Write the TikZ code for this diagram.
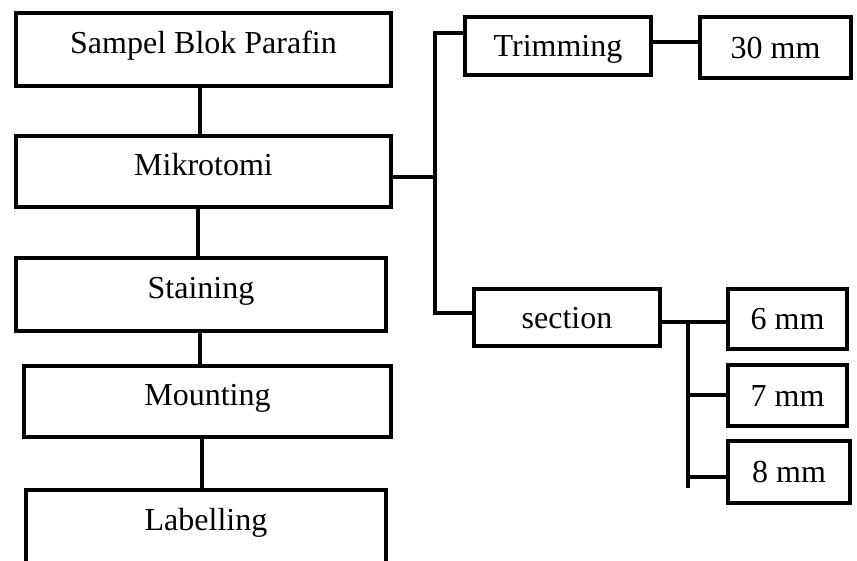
\documentclass[tikz,border=0pt]{standalone}
\usepackage{fontspec}
\setmainfont{Liberation Serif}
\begin{document}
\begin{tikzpicture}[x=1pt,y=-1pt,
  line width=3.6pt, line join=miter,
  box/.style={draw, line width=3.6pt, inner sep=0pt, font=\fontsize{32}{38}\selectfont},
  lifted/.style={text height=22pt, text depth=13.8pt},
  level/.style={text height=21.2pt, text depth=0pt}]
\clip (0,0) rectangle (857,560);
\fill[white] (0,0) rectangle (857,560);

% main sequence on the left
\node[box, lifted, minimum width=375.4pt, minimum height=73.4pt] (sampel) at (203.5,49.5) {Sampel Blok Parafin};
\node[box, lifted, minimum width=375.4pt, minimum height=71.4pt] (mikro) at (203.5,171.5) {Mikrotomi};
\node[box, lifted, minimum width=370.4pt, minimum height=73.4pt] (staining) at (201,294.5) {Staining};
\node[box, lifted, minimum width=367.4pt, minimum height=71.4pt] (mounting) at (207.5,401.5) {Mounting};
\node[box, lifted, minimum width=360.4pt, minimum height=73.4pt] (labelling) at (206,526.5) {Labelling};

% microtome branches
\node[box, level, minimum width=186.4pt, minimum height=58.4pt] (trimming) at (558,46) {Trimming};
\node[box, level, minimum width=151.4pt, minimum height=61.4pt] (thirty) at (775.5,47.5) {30 mm};
\node[box, level, minimum width=186.4pt, minimum height=57.4pt] (section) at (567,317.5) {section};
\node[box, level, minimum width=119.4pt, minimum height=60.4pt] (six) at (787.5,319) {6 mm};
\node[box, level, minimum width=119.4pt, minimum height=61.4pt] (seven) at (787.5,395.5) {7 mm};
\node[box, level, minimum width=122.4pt, minimum height=62.4pt] (eight) at (789,472) {8 mm};

% vertical links of the main sequence
\draw (sampel.south -| 200,0) -- (mikro.north -| 200,0);
\draw (mikro.south -| 198,0) -- (staining.north -| 198,0);
\draw (staining.south -| 200,0) -- (mounting.north -| 200,0);
\draw (mounting.south -| 202,0) -- (labelling.north -| 202,0);

% bracket from Mikrotomi to Trimming and section
\coordinate (btop) at (435,33);
\coordinate (bbot) at (435,313);
\coordinate (bmid) at (435,177);
\draw (trimming.west |- btop) -- (btop) -- (bbot) -- (section.west |- bbot);
\draw (mikro.east |- bmid) -- (bmid);

% Trimming to 30 mm
\draw (trimming.east |- 0,42) -- (thirty.west |- 0,42);

% section to its thicknesses
\coordinate (stop) at (688,322);
\coordinate (sbot) at (688,488);
\draw (section.east |- stop) -- (six.west |- stop);
\draw (stop) -- (sbot);
\draw (686,395) -- (seven.west |- 0,395);
\draw (688,477) -- (eight.west |- 0,477);
\end{tikzpicture}
\end{document}
